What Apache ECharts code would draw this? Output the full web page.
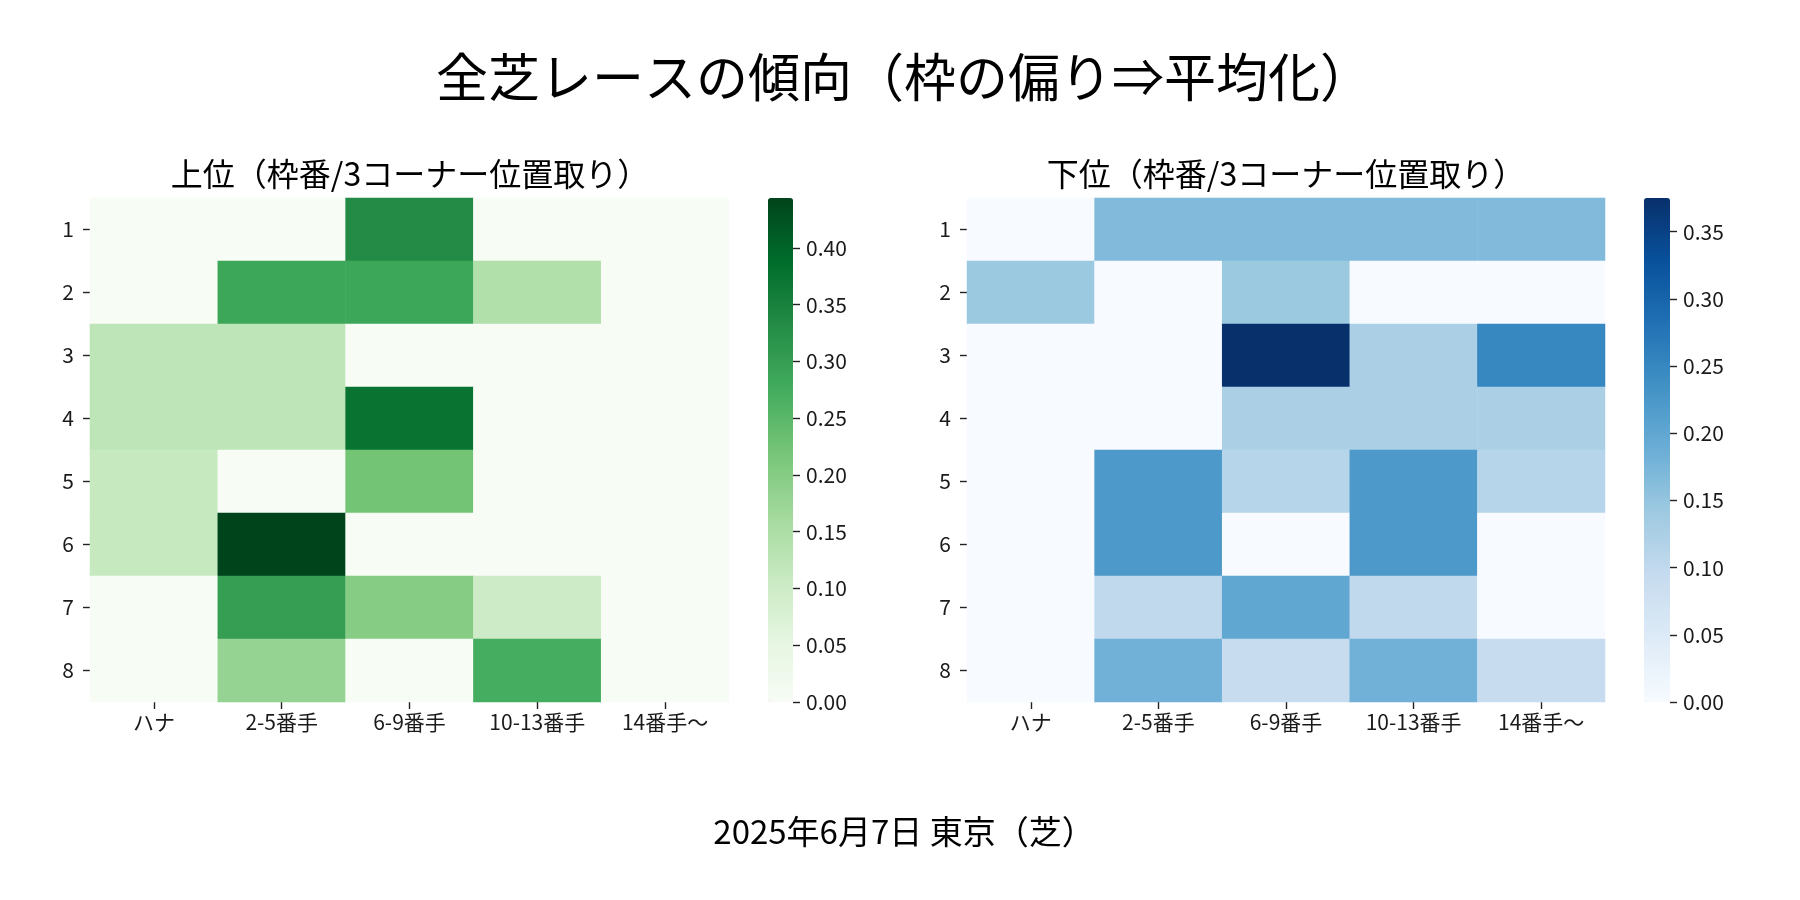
<!DOCTYPE html>
<html>
<head>
<meta charset="utf-8">
<script src="https://cdn.jsdelivr.net/npm/echarts@6/dist/echarts.min.js"></script>
<style>
  html, body { margin: 0; padding: 0; background: #fff; }
  #chart { width: 1800px; height: 900px; }
</style>
</head>
<body>
<div id="chart"></div>
<script>
// 枠番 (rows) x 3コーナー位置取り (columns)
const frames = ['1', '2', '3', '4', '5', '6', '7', '8'];
const positions = ['ハナ', '2-5番手', '6-9番手', '10-13番手', '14番手〜'];

// 上位
const topRates = [
  [0, 0, 0.333, 0, 0],
  [0, 0.286, 0.286, 0.143, 0],
  [0.125, 0.125, 0, 0, 0],
  [0.125, 0.125, 0.375, 0, 0],
  [0.111, 0, 0.222, 0, 0],
  [0.111, 0.444, 0, 0, 0],
  [0, 0.3, 0.2, 0.1, 0],
  [0, 0.182, 0, 0.273, 0]
];
// 下位
const bottomRates = [
  [0, 0.167, 0.167, 0.167, 0.167],
  [0.143, 0, 0.143, 0, 0],
  [0, 0, 0.375, 0.125, 0.25],
  [0, 0, 0.125, 0.125, 0.125],
  [0, 0.222, 0.111, 0.222, 0.111],
  [0, 0.222, 0, 0.222, 0],
  [0, 0.1, 0.2, 0.1, 0],
  [0, 0.182, 0.091, 0.182, 0.091]
];

// colorbar tick labels
const greenTicks = [0, 0.05, 0.10, 0.15, 0.20, 0.25, 0.30, 0.35, 0.40];
const blueTicks = [0, 0.05, 0.10, 0.15, 0.20, 0.25, 0.30, 0.35];

const greens = ['#f7fcf5', '#e5f5e0', '#c7e9c0', '#a1d99b', '#74c476', '#41ab5d', '#238b45', '#006d2c', '#00441b'];
const blues = ['#f7fbff', '#deebf7', '#c6dbef', '#9ecae1', '#6baed6', '#4292c6', '#2171b5', '#08519c', '#08306b'];

const FONT = '"Noto Sans CJK JP", "Noto Sans", sans-serif';
const TXT = '#1a1a1a';
const PLOT_TOP = 198, PLOT_H = 504;

function toCells(rows) {
  const out = [];
  rows.forEach((row, y) => row.forEach((v, x) => out.push([x, y, v])));
  return out;
}
function maxOf(rows) {
  return Math.max(...rows.map(r => Math.max(...r)));
}

const topMax = maxOf(topRates);
const bottomMax = maxOf(bottomRates);

// colorbar axis grid covers only 0..last tick, so ticks land on round values
function barGrid(left, width, vmax, ticks) {
  const last = ticks[ticks.length - 1];
  const h = PLOT_H * last / vmax;
  return { left: left, width: width, top: PLOT_TOP + PLOT_H - h, height: h };
}

const tickLine = { color: '#222', width: 1.4 };

const heatX = (gi) => ({
  gridIndex: gi,
  type: 'category',
  data: positions,
  axisLine: { show: false },
  axisTick: { show: true, alignWithLabel: true, length: 7, lineStyle: tickLine },
  axisLabel: { fontFamily: FONT, fontSize: 21, color: TXT, margin: 10 },
  splitLine: { show: false }
});
const heatY = (gi) => ({
  gridIndex: gi,
  type: 'category',
  data: frames,
  inverse: true,
  axisLine: { show: false },
  axisTick: { show: true, alignWithLabel: true, length: 7, lineStyle: tickLine },
  axisLabel: { fontFamily: FONT, fontSize: 21, color: TXT, margin: 16 },
  splitLine: { show: false }
});
const barX = (gi) => ({ gridIndex: gi, type: 'value', show: false, min: 0, max: 1 });
const barY = (gi, ticks) => ({
  gridIndex: gi,
  type: 'value',
  min: 0,
  max: ticks[ticks.length - 1],
  interval: 0.05,
  position: 'right',
  axisLine: { show: false, onZero: false },
  splitLine: { show: false },
  axisTick: { show: true, inside: false, length: 7, lineStyle: tickLine },
  axisLabel: {
    fontFamily: FONT, fontSize: 21, color: TXT, margin: 13,
    formatter: (v) => v.toFixed(2)
  }
});

const chart = echarts.init(document.getElementById('chart'));

const option = {
  animation: false,
  backgroundColor: '#ffffff',
  grid: [
    { left: 90, top: PLOT_TOP, width: 639, height: PLOT_H },
    { left: 967, top: PLOT_TOP, width: 638, height: PLOT_H },
    barGrid(768, 25, topMax, greenTicks),
    barGrid(1644, 26, bottomMax, blueTicks)
  ],
  xAxis: [heatX(0), heatX(1), barX(2), barX(3)],
  yAxis: [heatY(0), heatY(1), barY(2, greenTicks), barY(3, blueTicks)],
  visualMap: [
    {
      type: 'continuous',
      seriesIndex: 0,
      min: 0,
      max: topMax,
      calculable: false,
      hoverLink: false,
      left: 768,
      top: PLOT_TOP,
      itemWidth: 25,
      itemHeight: PLOT_H,
      padding: 0,
      text: null,
      z: 1,
      inRange: { color: greens }
    },
    {
      type: 'continuous',
      seriesIndex: 1,
      min: 0,
      max: bottomMax,
      calculable: false,
      hoverLink: false,
      left: 1644,
      top: PLOT_TOP,
      itemWidth: 26,
      itemHeight: PLOT_H,
      padding: 0,
      text: null,
      z: 1,
      inRange: { color: blues }
    }
  ],
  series: [
    {
      type: 'heatmap',
      xAxisIndex: 0,
      yAxisIndex: 0,
      data: toCells(topRates),
      emphasis: { disabled: true }
    },
    {
      type: 'heatmap',
      xAxisIndex: 1,
      yAxisIndex: 1,
      data: toCells(bottomRates),
      emphasis: { disabled: true }
    }
  ],
  graphic: [
    {
      type: 'text', x: 904, y: 77,
      style: { text: '全芝レースの傾向（枠の偏り⇒平均化）', font: '52px ' + FONT, fill: '#000', textAlign: 'center', textVerticalAlign: 'middle' }
    },
    {
      type: 'text', x: 410, y: 174,
      style: { text: '上位（枠番/3コーナー位置取り）', font: '32px ' + FONT, fill: '#000', textAlign: 'center', textVerticalAlign: 'middle' }
    },
    {
      type: 'text', x: 1286, y: 174,
      style: { text: '下位（枠番/3コーナー位置取り）', font: '32px ' + FONT, fill: '#000', textAlign: 'center', textVerticalAlign: 'middle' }
    },
    {
      type: 'text', x: 904, y: 831,
      style: { text: '2025年6月7日 東京（芝）', font: '33px ' + FONT, fill: '#000', textAlign: 'center', textVerticalAlign: 'middle' }
    }
  ]
};

chart.setOption(option);
</script>
</body>
</html>
